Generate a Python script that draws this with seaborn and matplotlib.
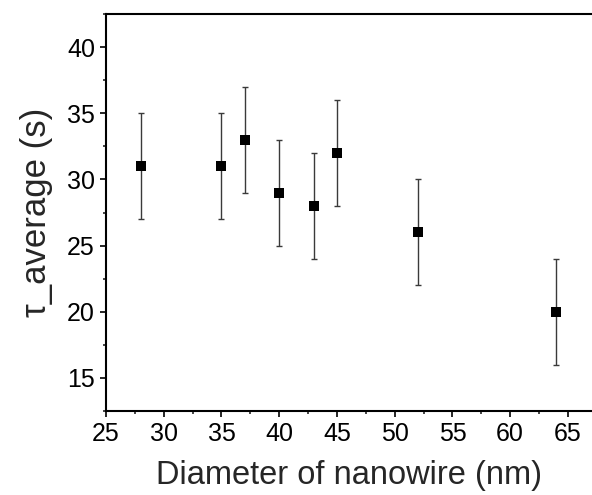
import matplotlib
matplotlib.use("Agg")
import matplotlib.pyplot as plt
import seaborn as sns
import pandas as pd
from matplotlib.ticker import MultipleLocator

diameter = [28, 35, 37, 40, 43, 45, 52, 64]
tau_avg = [31, 31, 33, 29, 28, 32, 26, 20]
tau_err = [4, 4, 4, 4, 4, 4, 4, 4]

df = pd.DataFrame({"d": diameter, "t": tau_avg, "e": tau_err})

sns.set_style("ticks")
plt.rcParams["font.family"] = ["Liberation Sans", "DejaVu Sans"]

fig = plt.figure(figsize=(5.92, 4.95), dpi=100)
ax = fig.add_axes([106/592, 1-411/495, (591-106)/592, (411-14)/495])

ax.errorbar(df["d"], df["t"], yerr=df["e"], fmt="none", ecolor="#3a3a3a",
            elinewidth=1.0, capsize=2.3, capthick=1.0, zorder=2)
sns.scatterplot(data=df, x="d", y="t", marker="s", color="black", s=55,
                edgecolor="black", linewidth=0, ax=ax, zorder=3)

ax.set_xlim(25, 67)
ax.set_ylim(12.5, 42.5)
ax.xaxis.set_major_locator(MultipleLocator(5))
ax.xaxis.set_minor_locator(MultipleLocator(2.5))
ax.yaxis.set_major_locator(MultipleLocator(5))
ax.yaxis.set_minor_locator(MultipleLocator(2.5))
ax.tick_params(which="major", direction="out", length=4, width=1.2, labelsize=18, colors="black", pad=4)
ax.tick_params(which="minor", direction="out", length=2.5, width=1.2)
for s in ["left", "bottom", "top"]:
    ax.spines[s].set_linewidth(1.5)
    ax.spines[s].set_color("black")
ax.spines["right"].set_visible(False)

ax.set_xlabel("Diameter of nanowire (nm)", fontsize=23.5, labelpad=10)
ax.set_ylabel("\u03c4_average (s)", fontsize=25, labelpad=10)

fig.savefig("out.png", dpi=100)
